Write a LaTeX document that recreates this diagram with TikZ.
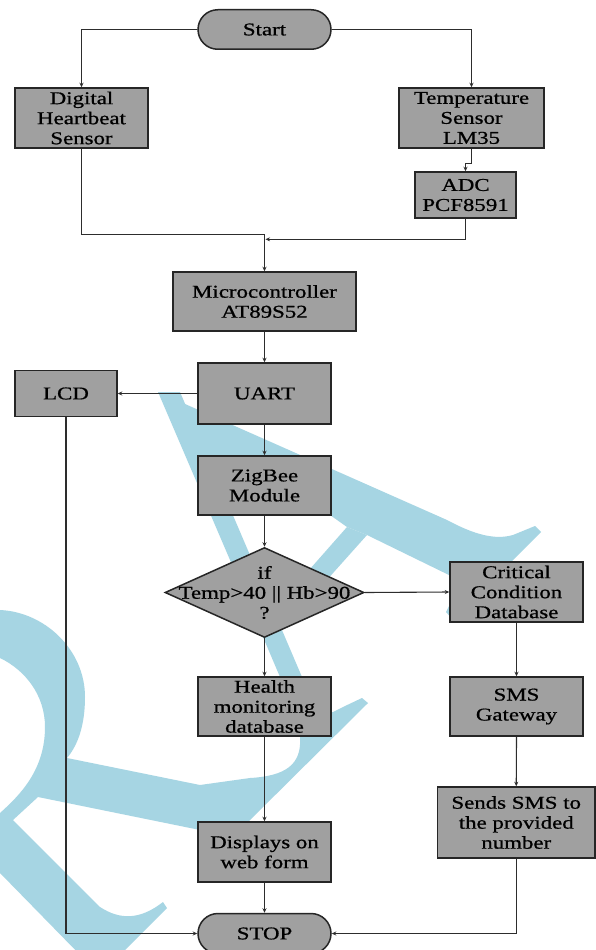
\documentclass[tikz,border=0pt]{standalone}
\usepackage{fontspec}
\setmainfont[FakeStretch=1.27,FakeBold=0.8]{Liberation Serif}
\usetikzlibrary{shapes.geometric,shapes.misc,arrows.meta}
\definecolor{boxgray}{RGB}{160,160,160}
\definecolor{wmblue}{RGB}{166,213,227}
\definecolor{linegray}{RGB}{45,45,45}
\begin{document}
\begin{tikzpicture}[x=1pt,y=-1pt,
  box/.style={draw=black!85, line width=1.5pt, fill=boxgray, inner sep=0pt, align=center,
    font=\fontsize{18}{20}\selectfont, text=black},
  term/.style={box, rounded rectangle},
  conn/.style={draw=linegray, line width=1.1pt, -{Stealth[length=4.5pt,width=4pt]}},
  plainline/.style={draw=linegray, line width=1.1pt},
  wm/.style={fill=wmblue, draw=none}]
\useasboundingbox (0,0) rectangle (596,950);
\clip (0,0) rectangle (596,950);
\fill[white] (0,0) rectangle (596,950);

% watermark: leg of A, bar, diagonal and R
\path[wm] (158,392) -- (180,392) -- (232,513) -- (302,677) -- (318,712) -- (333,712)
  .. controls (345,706) .. (362,698) -- (368,703) -- (247,823) -- (230,842) -- (200,830)
  -- (38,797) -- (13,820) -- (100,907) .. controls (120,920) and (140,920) .. (163,902)
  -- (167,908) -- (113,962) -- (87,962) -- (0,873) -- (0,813)
  .. controls (20,795) and (45,770) .. (45,727) .. controls (45,695) and (25,670) .. (0,658)
  -- (0,610) .. controls (45,612) and (85,650) .. (85,697)
  .. controls (85,725) and (78,745) .. (67,758)
  -- (200,785) -- (250,778) .. controls (285,776) and (302,765) .. (300,737)
  -- (280,677) -- (263,637) -- cycle;
% arm of A with hook
\path[wm] (158,392) -- (447,520) .. controls (475,535) and (495,540) .. (513,535)
  -- (535,526) -- (541,532) -- (527,546) -- (513,560) -- (490,585) -- (455,622) -- (446,612)
  -- (452,600) -- (453,577) -- (367,535) -- (347,527) -- (330,515) -- (211,462) -- cycle;
% crossbar
\path[wm] (347,527) -- (367,535) -- (300,610) -- (280,603) -- cycle;

% nodes
\node[term, minimum width=133pt, minimum height=39.5pt] (start) at (264.5,29.5) {Start};
\node[box, minimum width=133pt, minimum height=60pt] (digital) at (81.5,118) {Digital\\Heartbeat\\Sensor};
\node[box, minimum width=145pt, minimum height=60pt] (temp) at (471.5,118) {Temperature\\Sensor\\LM35};
\node[box, minimum width=101pt, minimum height=46pt] (adc) at (465.5,195) {ADC\\PCF8591};
\node[box, minimum width=183pt, minimum height=59pt] (micro) at (264.5,301.5) {Microcontroller\\AT89S52};
\node[box, minimum width=133pt, minimum height=61pt] (uart) at (264.5,393.5) {UART};
\node[box, minimum width=102pt, minimum height=46pt] (lcd) at (66,393.5) {LCD};
\node[box, minimum width=133pt, minimum height=59pt] (zigbee) at (264.5,485.5) {ZigBee\\Module};
\node[box, diamond, minimum width=199pt, minimum height=90pt] (dec) at (264.5,592.5) {};
\node[align=center, inner sep=0pt, font=\fontsize{18}{20}\selectfont, text=black] (dectext) at (dec.center) {if\\Temp>40 || Hb>90\\?};
\node[box, minimum width=133pt, minimum height=60pt] (critical) at (516.5,592) {Critical\\Condition\\Database};
\node[box, minimum width=133pt, minimum height=59pt] (health) at (264.5,706.5) {Health\\monitoring\\database};
\node[box, minimum width=133pt, minimum height=59pt] (sms) at (516.5,706.5) {SMS\\Gateway};
\node[box, minimum width=133pt, minimum height=60pt] (displays) at (264.5,852) {Displays on\\web form};
\node[box, minimum width=157.5pt, minimum height=71pt] (sends) at (516.25,822.5) {Sends SMS to\\the provided\\number};
\node[term, minimum width=133pt, minimum height=40pt] (stop) at (264.5,933.5) {STOP};

% connectors
\draw[conn] (start.west) -| (digital.north);
\draw[conn] (start.east) -| (temp.north);
\draw[conn] (temp.south) -- ++(0,15) -| (adc.north);
\coordinate (j1) at (264.5,234.3);
\coordinate (j2) at (265.5,239.3);
\draw[plainline] (digital.south) |- (j1);
\draw[conn] (j1) -- (micro.north);
\draw[conn] (adc.south) |- (j2);
\draw[conn] (micro.south) -- (uart.north);
\draw[conn] (uart.west) -- (lcd.east);
\draw[conn] (uart.south) -- (zigbee.north);
\draw[conn] (zigbee.south) -- (dec.north);
\draw[conn] (dec.east) -- (critical.west);
\draw[conn] (dec.south) -- (health.north);
\draw[conn] (critical.south) -- (sms.north);
\draw[conn] (health.south) -- (displays.north);
\draw[conn] (sms.south) -- (sends.north);
\draw[conn] (displays.south) -- (stop.north);
\draw[conn] (lcd.south) |- (stop.west);
\draw[conn] (sends.south) |- (stop.east);
\end{tikzpicture}
\end{document}
